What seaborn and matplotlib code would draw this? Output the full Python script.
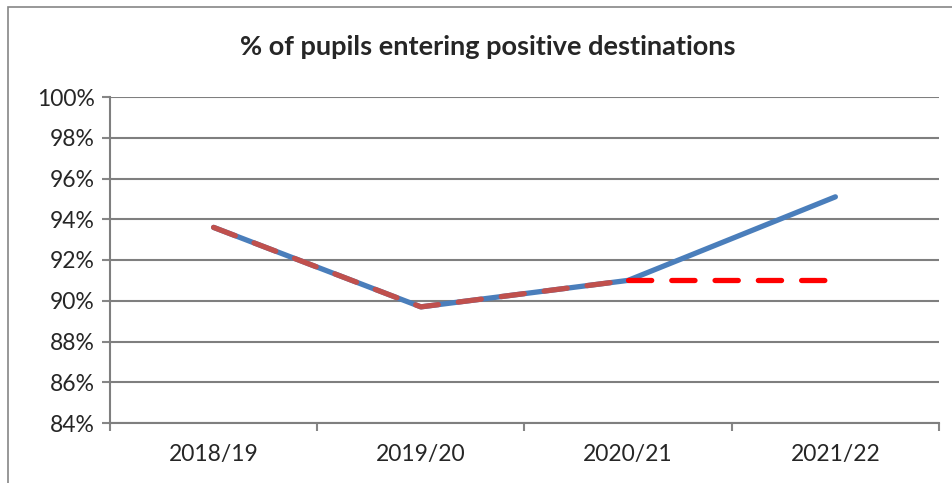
import numpy as np
import pandas as pd
import matplotlib.pyplot as plt
import seaborn as sns
from matplotlib.patches import Rectangle

# Chart data
years = ['2018/19', '2019/20', '2020/21', '2021/22']
actual = [93.6, 89.7, 91.0, 95.1]
previous = [93.6, 89.7, 91.0, np.nan]
flat = [np.nan, np.nan, 91.0, 91.0]
y_ticks = [84, 86, 88, 90, 92, 94, 96, 98, 100]

df = pd.DataFrame({'pos': np.arange(len(years)), 'actual': actual,
                   'previous': previous, 'flat': flat})

sns.set_style('white')
plt.rcParams['font.family'] = ['Lato', 'DejaVu Sans']

fig = plt.figure(figsize=(9.53, 4.83), dpi=100)
ax = fig.add_axes([110 / 953, 1 - 423 / 483, 829 / 953, 326 / 483])

# outer chart frame (only left/top visible in the crop)
fig.patches.append(Rectangle((8 / 953, -0.1), 1.2, 1 - 7 / 483 + 0.1,
                             transform=fig.transFigure, fill=False,
                             edgecolor='#868686', linewidth=1.2))

sns.lineplot(data=df, x='pos', y='actual', color='#4A7EBB', linewidth=3.8,
             solid_capstyle='round', ax=ax)
sns.lineplot(data=df, x='pos', y='previous', color='#C0504D', linewidth=3.8,
             ax=ax, linestyle=(0, (4.4, 3.8)), dash_capstyle='round')
sns.lineplot(data=df, x='pos', y='flat', color='#FF0000', linewidth=3.8,
             ax=ax, linestyle=(0, (4.4, 3.8)), dash_capstyle='round')

ax.set_xlim(-0.5, len(years) - 0.5)
ax.set_ylim(84, 100)
ax.set_yticks(y_ticks)
ax.set_yticklabels([f'{v}%' for v in y_ticks])
ax.set_xticks(np.arange(len(years) + 1) - 0.5)
ax.set_xticklabels([])
ax.set_xticks(np.arange(len(years)), minor=True)
ax.set_xticklabels(years, minor=True)
ax.tick_params(axis='x', which='major', length=6, width=1.5, color='#868686',
               direction='out', bottom=True)
ax.tick_params(axis='x', which='minor', length=0, labelsize=16.5, pad=15)
ax.tick_params(axis='y', length=6, width=1.5, color='#868686',
               direction='out', left=True, labelsize=16.5, pad=5)

ax.grid(axis='y', color='#7f7f7f', linewidth=1.5)
ax.set_axisbelow(True)
for side in ['top', 'right']:
    ax.spines[side].set_visible(False)
for side in ['left', 'bottom']:
    ax.spines[side].set_color('#7f7f7f')
    ax.spines[side].set_linewidth(1.5)

ax.set_xlabel('')
ax.set_ylabel('')
fig.text(488 / 953, 1 - 47 / 483, '% of pupils entering positive destinations',
         ha='center', va='center', fontsize=19.5, fontweight='bold')

fig.savefig('out.png', dpi=100)
